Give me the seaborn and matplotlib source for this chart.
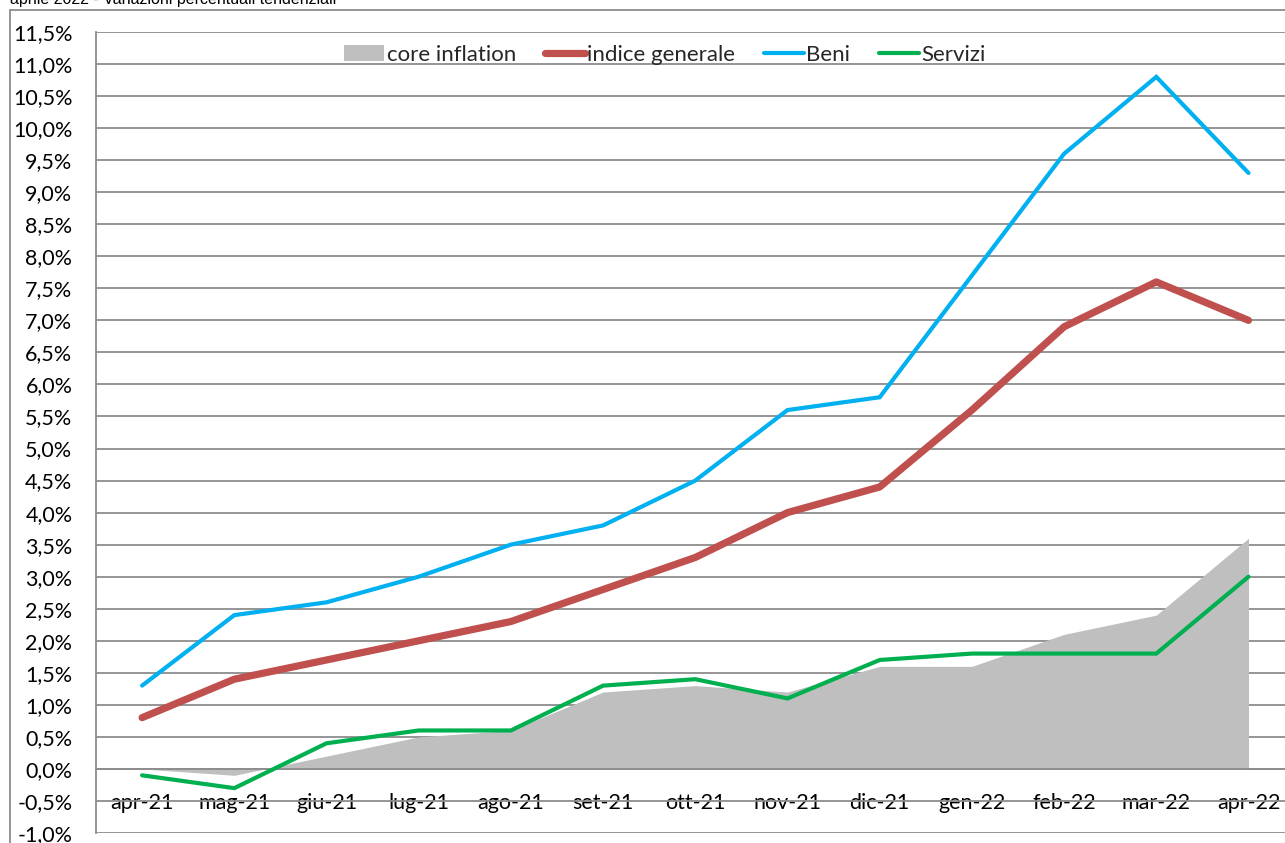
import numpy as np
import pandas as pd
import matplotlib
matplotlib.use("Agg")
import matplotlib.pyplot as plt
import seaborn as sns
from matplotlib.patches import Patch, Rectangle
from matplotlib.lines import Line2D

months = ["apr-21", "mag-21", "giu-21", "lug-21", "ago-21", "set-21", "ott-21",
          "nov-21", "dic-21", "gen-22", "feb-22", "mar-22", "apr-22"]
core_inflation = [0.0, -0.1, 0.2, 0.5, 0.6, 1.2, 1.3, 1.2, 1.6, 1.6, 2.1, 2.4, 3.6]
indice_generale = [0.8, 1.4, 1.7, 2.0, 2.3, 2.8, 3.3, 4.0, 4.4, 5.6, 6.9, 7.6, 7.0]
beni = [1.3, 2.4, 2.6, 3.0, 3.5, 3.8, 4.5, 5.6, 5.8, 7.7, 9.6, 10.8, 9.3]
servizi = [-0.1, -0.3, 0.4, 0.6, 0.6, 1.3, 1.4, 1.1, 1.7, 1.8, 1.8, 1.8, 3.0]
title_text = "aprile 2022 - Variazioni percentuali tendenziali"

sns.set_theme(style="white")
plt.rcParams["font.family"] = ["Lato", "DejaVu Sans"]

C_CORE = "#BFBFBF"
C_GEN = "#C0504D"
C_BENI = "#00B0F0"
C_SERV = "#00B050"
C_GRID = "#8C8C8C"
FS = 15.5

fig = plt.figure(figsize=(12.85, 8.43), dpi=100)
W, H = 1285, 843
ax = fig.add_axes([96 / W, 10 / H, 13 * 92.2 / W, 801 / H])

x = np.arange(len(months))
df = pd.DataFrame({"x": x, "core": core_inflation, "gen": indice_generale,
                   "beni": beni, "serv": servizi})

ax.fill_between(df["x"], 0, df["core"], color=C_CORE, lw=0, zorder=2)
sns.lineplot(data=df, x="x", y="gen", ax=ax, color=C_GEN, lw=5.2,
             solid_capstyle="round", solid_joinstyle="round", zorder=3)
sns.lineplot(data=df, x="x", y="beni", ax=ax, color=C_BENI, lw=3.0,
             solid_capstyle="round", solid_joinstyle="miter", zorder=4)
sns.lineplot(data=df, x="x", y="serv", ax=ax, color=C_SERV, lw=3.0,
             solid_capstyle="round", solid_joinstyle="miter", zorder=5)

ax.set_xlim(-0.5, 12.5)
ax.set_ylim(-1.0, 11.5)
yt = np.arange(-1.0, 11.51, 0.5)
ax.set_yticks(yt)
ax.set_yticklabels([(f"{v:.1f}%").replace(".", ",") for v in yt])
ax.set_xticks(x)
ax.set_xticklabels(months)
ax.set_xticks(np.arange(-0.5, 12.51, 1.0), minor=True)
ax.set_xlabel("")
ax.set_ylabel("")

ax.yaxis.grid(True, color=C_GRID, lw=1.3, zorder=0)
ax.xaxis.grid(False)
ax.set_axisbelow(True)

for s in ["top", "right"]:
    ax.spines[s].set_visible(False)
ax.spines["left"].set_color(C_GRID)
ax.spines["left"].set_linewidth(1.3)
ax.spines["bottom"].set_position(("data", 0))
ax.spines["bottom"].set_color(C_GRID)
ax.spines["bottom"].set_linewidth(1.3)
ax.spines["bottom"].set_zorder(2.5)

ax.tick_params(axis="y", length=0, pad=17, labelsize=FS, labelcolor="black")
ax.tick_params(axis="x", which="major", length=0, pad=17, labelsize=FS,
               labelcolor="black")
ax.tick_params(axis="x", which="minor", length=5, width=1.3, color=C_GRID,
               direction="out")

handles = [Patch(facecolor=C_CORE, edgecolor="none"),
           Line2D([], [], color=C_GEN, lw=5.2, solid_capstyle="round"),
           Line2D([], [], color=C_BENI, lw=3.0, solid_capstyle="round"),
           Line2D([], [], color=C_SERV, lw=3.0, solid_capstyle="round")]
labels = ["core inflation", "indice generale", "Beni", "Servizi"]
fig.legend(handles, labels, loc="center", bbox_to_anchor=(665 / W, 1 - 55 / H),
           ncol=4, frameon=False, fontsize=16, handlelength=1.8,
           handletextpad=0.1, columnspacing=1.3, handleheight=0.7)

fig.text(10 / W, 1 - 4 / H, title_text, ha="left", va="baseline",
         fontsize=11.5, family=["Liberation Sans", "DejaVu Sans"], color="black")

border = Rectangle((10 / W, -0.05), 1.1, (1 - 10 / H) + 0.05, transform=fig.transFigure,
                   fill=False, edgecolor="#8C8C8C", lw=1.3, clip_on=False)
fig.add_artist(border)

fig.savefig("out.png", dpi=100)
